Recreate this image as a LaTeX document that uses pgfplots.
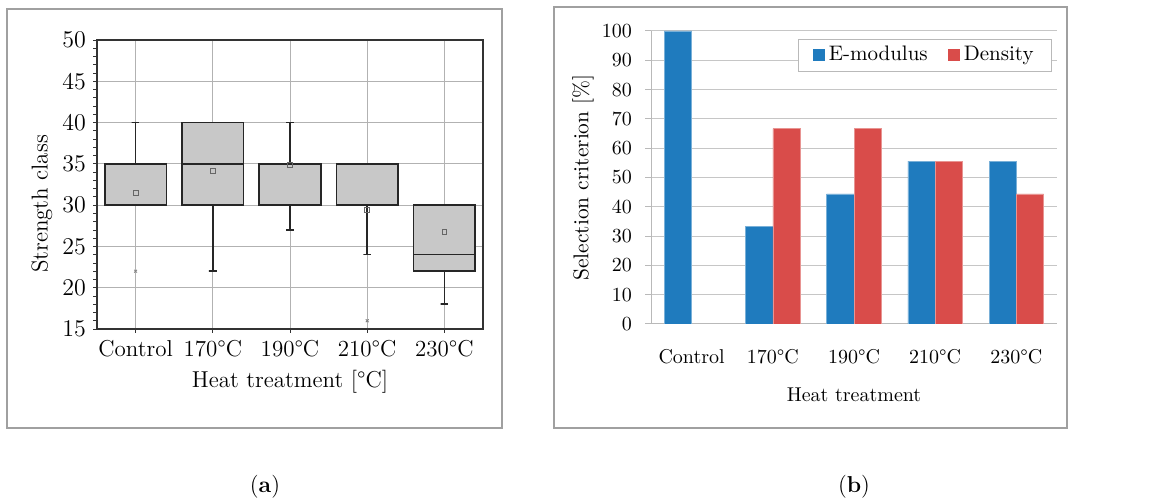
\documentclass[border=0pt]{standalone}
\usepackage{pgfplots}
\pgfplotsset{compat=1.18}
\definecolor{bluebar}{RGB}{31,123,190}
\definecolor{redbar}{RGB}{217,76,74}
\definecolor{boxfill}{RGB}{200,200,200}
\definecolor{framegray}{RGB}{160,160,160}
\begin{document}
\begin{tikzpicture}
\useasboundingbox (0,0) rectangle (578pt,249pt);
\draw[framegray, line width=0.6pt] (3.5pt,35pt) rectangle (251pt,244.5pt);
\draw[framegray, line width=0.6pt] (277pt,35pt) rectangle (533.5pt,245.5pt);
\node[anchor=base, font=\fontsize{11.5}{13}\selectfont] at (132.5pt,3pt) {(\textbf{a})};
\node[anchor=base, font=\fontsize{11.5}{13}\selectfont] at (427pt,3pt) {(\textbf{b})};

\begin{axis}[
  at={(48.5pt,84.5pt)}, anchor=south west,
  width=193pt, height=144.5pt, scale only axis,
  xmin=-0.5, xmax=4.5, ymin=15, ymax=50,
  xtick={0,1,2,3,4},
  xticklabels={Control,170°C,190°C,210°C,230°C},
  ytick={15,20,...,50},
  minor y tick num=4,
  tick align=outside,
  xtick pos=bottom, ytick pos=left,
  major tick length=2pt, minor tick length=2pt,
  tick style={black!80, line width=0.4pt},
  xmajorgrids, ymajorgrids,
  grid style={gray!60, line width=0.4pt},
  axis line style={black!80, line width=0.6pt},
  ticklabel style={font=\fontsize{11.5}{13}\selectfont},
  label style={font=\fontsize{11.5}{13}\selectfont},
  xlabel={Heat treatment [°C]},
  ylabel={Strength class},
  xlabel style={at={(axis description cs:0.5,-0.183)}, anchor=center},
  ylabel style={at={(axis description cs:-0.1425,0.4325)}, anchor=center},
  whisk/.style={draw=black!85, line width=0.8pt, mark=none},
  boxst/.style={fill=boxfill, draw=black!85, line width=0.8pt, mark=none},
]
% whiskers (vertical line + cap)
\addplot[whisk] coordinates {(0,35)(0,40)(-0.05,40)(0.05,40)};
\addplot[whisk] coordinates {(1,30)(1,22)(0.95,22)(1.05,22)};
\addplot[whisk] coordinates {(2,35)(2,40)(1.95,40)(2.05,40)};
\addplot[whisk] coordinates {(2,30)(2,27)(1.95,27)(2.05,27)};
\addplot[whisk] coordinates {(2.95,35.05)(3.05,35.05)};
\addplot[whisk] coordinates {(3,30)(3,24)(2.95,24)(3.05,24)};
\addplot[whisk] coordinates {(4,22)(4,18)(3.95,18)(4.05,18)};
% boxes (lower quartile to upper quartile)
\addplot[boxst] coordinates {(-0.4,30)(0.4,30)(0.4,35)(-0.4,35)} -- cycle;
\addplot[boxst] coordinates {(0.6,30)(1.4,30)(1.4,40)(0.6,40)} -- cycle;
\addplot[boxst] coordinates {(1.6,30)(2.4,30)(2.4,35)(1.6,35)} -- cycle;
\addplot[boxst] coordinates {(2.6,30)(3.4,30)(3.4,35)(2.6,35)} -- cycle;
\addplot[boxst] coordinates {(3.6,22)(4.4,22)(4.4,30)(3.6,30)} -- cycle;
% medians
\addplot[whisk] coordinates {(0.6,35)(1.4,35)};
\addplot[whisk] coordinates {(3.6,24)(4.4,24)};
% means and outliers
\addplot[only marks, mark=square, mark size=1.2pt, mark options={gray!80!black, line width=0.4pt}] coordinates {(0,31.5)(1,34.1)(2,34.9)(3,29.4)(4,26.8)};
\addplot[only marks, mark=x, mark size=1pt, mark options={gray, line width=0.4pt}] coordinates {(0,22)(3,16)};
\end{axis}

\begin{axis}[
  at={(325.5pt,87pt)}, anchor=south west,
  width=203pt, height=146.5pt, scale only axis,
  ybar=0pt, bar width=13.65pt,
  xmin=-0.5, xmax=4.5, ymin=0, ymax=100,
  xtick={0,1,2,3,4},
  xticklabels={Control,170°C,190°C,210°C,230°C},
  ytick={0,10,...,100},
  axis lines=left,
  axis line style={-, gray!55, line width=0.5pt},
  xtick style={draw=none},
  ytick style={gray!55, line width=0.5pt},
  tick align=outside, major tick length=3pt,
  ymajorgrids, grid style={gray!45, line width=0.5pt},
  ticklabel style={font=\fontsize{10}{12}\selectfont},
  xticklabel style={yshift=-6pt},
  yticklabel style={xshift=-3pt},
  xlabel={Heat treatment},
  ylabel={Selection criterion [\%]},
  xlabel style={font=\fontsize{10}{12}\selectfont, at={(axis description cs:0.5,-0.242)}, anchor=center},
  ylabel style={font=\fontsize{10.7}{12}\selectfont, at={(axis description cs:-0.1675,0.5)}, anchor=center},
  legend style={at={(0.9877,0.9727)}, anchor=north east, draw=gray!55, inner xsep=7pt, inner ysep=1.5pt, font=\fontsize{10.5}{12}\selectfont, legend columns=2, /tikz/every even column/.append style={column sep=8pt}},
  legend image code/.code={\fill[#1, draw=none] (0pt,-3pt) rectangle (6pt,3pt);},
]
\addplot[fill=bluebar, draw=bluebar!60!white, line width=0.3pt] coordinates {(0,100)(1,33.3)(2,44.4)(3,55.6)(4,55.6)};
\addplot[fill=redbar, draw=redbar!60!white, line width=0.3pt] coordinates {(1,66.7)(2,66.7)(3,55.6)(4,44.4)};
\legend{E-modulus, Density}
\end{axis}
\end{tikzpicture}
\end{document}
